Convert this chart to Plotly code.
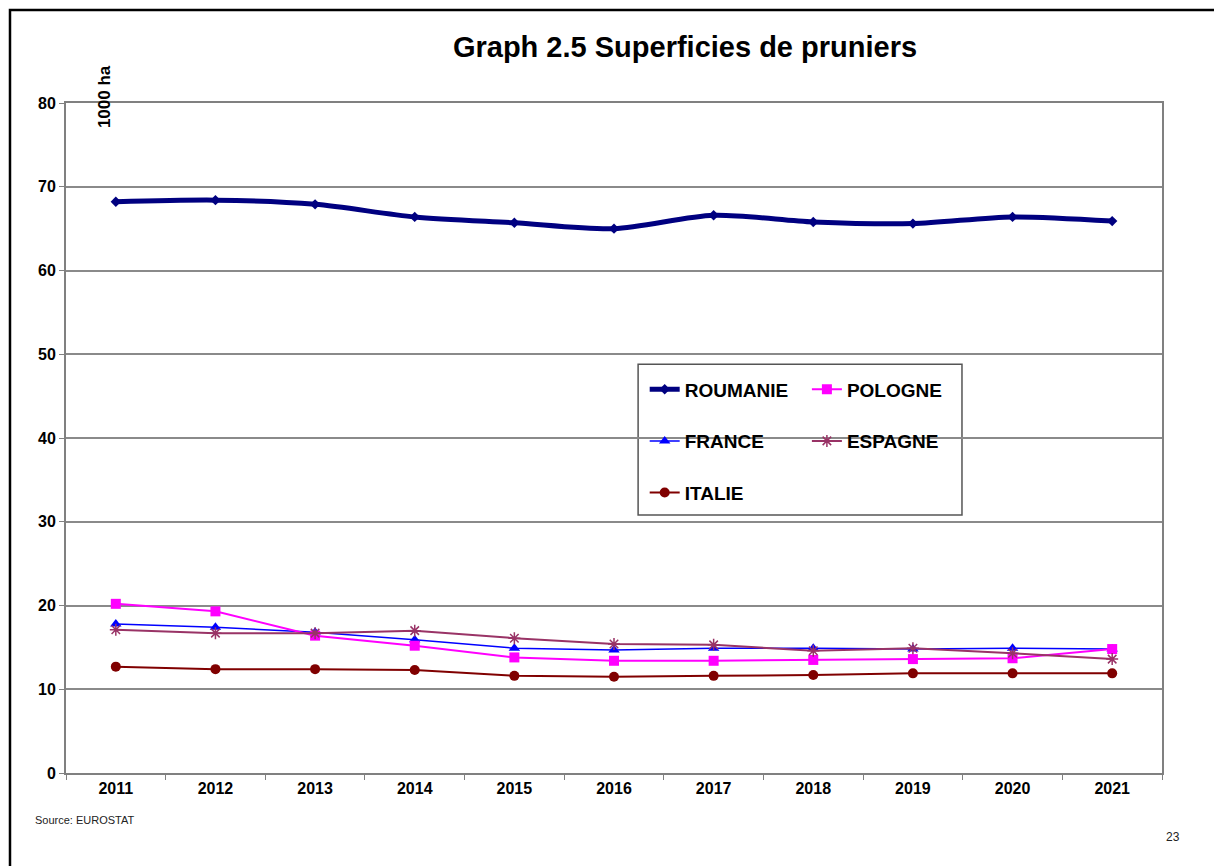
import plotly.graph_objects as go

years = ['2011', '2012', '2013', '2014', '2015', '2016', '2017', '2018', '2019', '2020', '2021']
roumanie = [68.2, 68.4, 67.9, 66.4, 65.7, 65.0, 66.6, 65.8, 65.6, 66.4, 65.9]
pologne = [20.2, 19.3, 16.4, 15.2, 13.8, 13.4, 13.4, 13.5, 13.6, 13.7, 14.8]
france = [17.8, 17.4, 16.8, 15.9, 14.9, 14.7, 14.9, 14.9, 14.8, 14.9, 14.8]
espagne = [17.1, 16.7, 16.7, 17.0, 16.1, 15.4, 15.3, 14.6, 14.9, 14.3, 13.6]
italie = [12.7, 12.4, 12.4, 12.3, 11.6, 11.5, 11.6, 11.7, 11.9, 11.9, 11.9]

FONT = 'Liberation Sans, Arial'

fig = go.Figure()
fig.add_trace(go.Scatter(x=years, y=roumanie, name='ROUMANIE', mode='lines+markers',
                         line=dict(color='#000080', width=5, shape='spline', smoothing=0.8),
                         marker=dict(symbol='diamond', size=8, color='#000080'),
                         legend='legend', legendgroup='a'))
fig.add_trace(go.Scatter(x=years, y=france, name='FRANCE', mode='lines+markers',
                         line=dict(color='#0000FF', width=1.5),
                         marker=dict(symbol='triangle-up', size=10, color='#0000FF'),
                         legend='legend', legendgroup='b'))
fig.add_trace(go.Scatter(x=years, y=italie, name='ITALIE', mode='lines+markers',
                         line=dict(color='#800000', width=2),
                         marker=dict(symbol='circle', size=10, color='#800000'),
                         legend='legend', legendgroup='c'))
fig.add_trace(go.Scatter(x=years, y=pologne, name='POLOGNE', mode='lines+markers',
                         line=dict(color='#FF00FF', width=2),
                         marker=dict(symbol='square', size=10, color='#FF00FF'),
                         legend='legend2', legendgroup='d'))
fig.add_trace(go.Scatter(x=years, y=espagne, name='ESPAGNE', mode='lines+markers',
                         line=dict(color='#993366', width=2),
                         marker=dict(symbol='asterisk', size=10, color='#993366',
                                     line=dict(color='#993366', width=1.5)),
                         legend='legend2', legendgroup='e'))

leg_font = dict(family=FONT, size=19, color='black', weight='bold')
fig.update_layout(
    width=1222, height=866,
    margin=dict(l=58, r=68, t=95, b=101),
    paper_bgcolor='white', plot_bgcolor='white',
    font=dict(family=FONT, color='black'),
    title=dict(text='<b>Graph 2.5 Superficies de pruniers</b>', x=0.554, xanchor='center',
               y=0.955, yanchor='middle', font=dict(family=FONT, size=29, color='black')),
    showlegend=True,
    legend=dict(x=0.528, y=0.601, xanchor='left', yanchor='top', font=leg_font,
                bgcolor='rgba(0,0,0,0)', traceorder='grouped', tracegroupgap=24,
                itemwidth=30),
    legend2=dict(x=0.676, y=0.601, xanchor='left', yanchor='top', font=leg_font,
                 bgcolor='rgba(0,0,0,0)', traceorder='grouped', tracegroupgap=24,
                 itemwidth=30),
    xaxis=dict(type='category', range=[-0.5, 10.5], tickson='boundaries', ticks='outside',
               ticklen=5, tickcolor='#808080', showline=True, linecolor='#808080',
               linewidth=2, mirror=True, showgrid=False,
               tickfont=dict(family=FONT, size=16, color='black', weight='bold')),
    yaxis=dict(range=[0, 80], dtick=10, ticks='outside', ticklen=5, tickcolor='#808080',
               showline=True, linecolor='#808080', linewidth=2, mirror=True,
               showgrid=True, gridcolor='#8a8a8a', gridwidth=1.5, zeroline=False,
               tickfont=dict(family=FONT, size=16, color='black', weight='bold')),
    shapes=[
        dict(type='rect', xref='paper', yref='paper', x0=0.522, x1=0.8175, y0=0.385, y1=0.610,
             line=dict(color='#555555', width=1.5), fillcolor='white', layer='below'),
        dict(type='rect', xref='paper', yref='paper', x0=-0.0511, x1=1.0511, y0=-0.25, y1=1.1388,
             line=dict(color='black', width=2.5)),
    ],
    annotations=[
        dict(text='<b>1000 ha</b>', xref='paper', yref='paper', x=0.0357, y=1.009, xanchor='center',
             yanchor='middle', textangle=-90, showarrow=False,
             font=dict(family=FONT, size=17, color='black')),
        dict(text='Source: EUROSTAT', xref='paper', yref='paper', x=-0.03, y=-0.07,
             xanchor='left', yanchor='middle', showarrow=False,
             font=dict(family=FONT, size=11, color='#222222')),
        dict(text='23', xref='paper', yref='paper', x=1.01, y=-0.095,
             xanchor='center', yanchor='middle', showarrow=False,
             font=dict(family=FONT, size=12, color='#222222')),
    ],
)

fig.write_html('out.html')
